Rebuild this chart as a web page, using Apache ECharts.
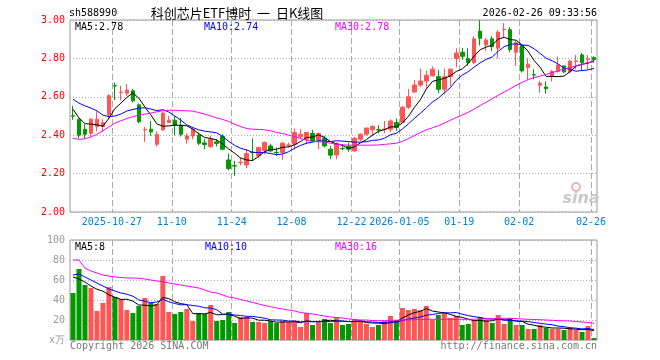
<!DOCTYPE html>
<html><head><meta charset="utf-8">
<script src="https://cdn.jsdelivr.net/npm/echarts@6/dist/echarts.min.js"></script>
<style>html,body{margin:0;padding:0;background:#fff}#c{width:660px;height:360px}</style>
</head><body><div id="c"></div><script>
const dates = ['2025-10-16','2025-10-17','2025-10-20','2025-10-21','2025-10-22','2025-10-23','2025-10-24','2025-10-27','2025-10-28','2025-10-29',
'2025-10-30','2025-10-31','2025-11-03','2025-11-04','2025-11-05','2025-11-06','2025-11-07','2025-11-10','2025-11-11','2025-11-12',
'2025-11-13','2025-11-14','2025-11-17','2025-11-18','2025-11-19','2025-11-20','2025-11-21','2025-11-24','2025-11-25','2025-11-26',
'2025-11-27','2025-11-28','2025-12-01','2025-12-02','2025-12-03','2025-12-04','2025-12-05','2025-12-08','2025-12-09','2025-12-10',
'2025-12-11','2025-12-12','2025-12-15','2025-12-16','2025-12-17','2025-12-18','2025-12-19','2025-12-22','2025-12-23','2025-12-24',
'2025-12-25','2025-12-26','2025-12-29','2025-12-30','2025-12-31','2026-01-05','2026-01-06','2026-01-07','2026-01-08','2026-01-09',
'2026-01-12','2026-01-13','2026-01-14','2026-01-15','2026-01-16','2026-01-19','2026-01-20','2026-01-21','2026-01-22','2026-01-23',
'2026-01-26','2026-01-27','2026-01-28','2026-01-29','2026-01-30','2026-02-02','2026-02-03','2026-02-04','2026-02-05','2026-02-06',
'2026-02-09','2026-02-10','2026-02-11','2026-02-12','2026-02-13','2026-02-24','2026-02-25','2026-02-26'];

const openP = [2.501,2.483,2.431,2.41,2.445,2.445,2.506,2.658,2.622,2.619,
2.631,2.558,2.427,2.431,2.353,2.428,2.466,2.478,2.452,2.379,
2.396,2.40,2.36,2.341,2.365,2.393,2.271,2.241,2.257,2.245,
2.311,2.292,2.318,2.344,2.311,2.31,2.347,2.353,2.393,2.379,
2.409,2.37,2.384,2.327,2.297,2.331,2.341,2.318,2.379,2.405,
2.428,2.429,2.430,2.431,2.466,2.468,2.546,2.625,2.661,2.682,
2.709,2.705,2.639,2.705,2.80,2.832,2.80,2.779,2.942,2.87,
2.902,2.853,2.950,2.949,2.832,2.867,2.753,2.715,2.66,2.651,
2.705,2.732,2.761,2.73,2.785,2.818,2.795,2.804];
const closeP = [2.499,2.40,2.405,2.483,2.483,2.465,2.605,2.656,2.624,2.635,
2.579,2.47,2.429,2.417,2.403,2.515,2.478,2.452,2.405,2.396,
2.431,2.358,2.351,2.379,2.356,2.327,2.226,2.239,2.259,2.304,
2.309,2.336,2.362,2.318,2.309,2.358,2.349,2.414,2.405,2.414,
2.37,2.409,2.344,2.296,2.356,2.329,2.327,2.384,2.405,2.437,
2.445,2.427,2.432,2.474,2.44,2.545,2.60,2.661,2.682,2.712,
2.744,2.639,2.705,2.744,2.828,2.811,2.779,2.902,2.905,2.896,
2.861,2.937,2.952,2.846,2.881,2.735,2.77,2.713,2.67,2.642,
2.732,2.765,2.73,2.786,2.787,2.779,2.797,2.793];
const lowP = [2.48,2.384,2.383,2.393,2.42,2.418,2.483,2.583,2.58,2.605,
2.57,2.463,2.365,2.397,2.341,2.423,2.466,2.40,2.393,2.356,
2.379,2.348,2.327,2.334,2.341,2.322,2.217,2.188,2.243,2.228,
2.266,2.28,2.30,2.31,2.292,2.271,2.336,2.327,2.379,2.353,
2.362,2.327,2.336,2.275,2.275,2.322,2.313,2.313,2.37,2.397,
2.397,2.41,2.41,2.417,2.423,2.463,2.537,2.62,2.651,2.647,
2.705,2.618,2.612,2.656,2.753,2.793,2.761,2.77,2.867,2.837,
2.837,2.80,2.91,2.832,2.761,2.726,2.688,2.691,2.621,2.616,
2.679,2.726,2.723,2.723,2.744,2.735,2.744,2.779];
const highP = [2.553,2.486,2.457,2.489,2.525,2.483,2.614,2.675,2.657,2.666,
2.64,2.565,2.443,2.474,2.42,2.52,2.50,2.50,2.49,2.41,
2.44,2.414,2.379,2.397,2.379,2.405,2.304,2.266,2.283,2.327,
2.383,2.341,2.367,2.356,2.336,2.365,2.362,2.435,2.431,2.417,
2.428,2.414,2.397,2.344,2.362,2.353,2.362,2.391,2.409,2.44,
2.452,2.452,2.474,2.483,2.487,2.553,2.641,2.687,2.747,2.735,
2.758,2.739,2.747,2.747,2.853,2.854,2.853,2.916,2.998,2.907,
2.916,2.946,2.984,2.963,2.893,2.875,2.80,2.744,2.682,2.68,
2.739,2.81,2.761,2.793,2.818,2.828,2.818,2.811];

const ma5 = [2.535,2.49,2.46,2.458,2.454,2.447,2.488,2.539,2.567,2.597,
2.62,2.593,2.547,2.506,2.459,2.447,2.448,2.453,2.451,2.449,
2.432,2.408,2.388,2.383,2.375,2.354,2.328,2.306,2.281,2.271,
2.268,2.29,2.314,2.326,2.327,2.337,2.339,2.35,2.367,2.388,
2.39,2.402,2.388,2.367,2.355,2.347,2.331,2.339,2.36,2.377,
2.4,2.42,2.429,2.443,2.444,2.463,2.498,2.544,2.585,2.64,
2.68,2.688,2.696,2.709,2.732,2.745,2.773,2.813,2.845,2.859,
2.869,2.9,2.91,2.898,2.895,2.87,2.837,2.789,2.754,2.706,
2.706,2.705,2.708,2.731,2.76,2.769,2.775,2.788];
const ma10 = [2.588,2.567,2.553,2.541,2.527,2.504,2.497,2.50,2.51,2.526,
2.534,2.541,2.543,2.536,2.528,2.533,2.521,2.50,2.478,2.454,
2.44,2.428,2.421,2.417,2.412,2.393,2.368,2.347,2.332,2.323,
2.311,2.309,2.31,2.304,2.299,2.302,2.314,2.332,2.347,2.358,
2.364,2.371,2.369,2.367,2.371,2.369,2.367,2.364,2.364,2.366,
2.373,2.375,2.384,2.402,2.41,2.432,2.459,2.487,2.514,2.542,
2.572,2.593,2.62,2.647,2.686,2.713,2.731,2.755,2.777,2.795,
2.807,2.837,2.861,2.872,2.877,2.869,2.868,2.85,2.826,2.801,
2.788,2.771,2.749,2.743,2.733,2.737,2.74,2.748];
const ma30 = [2.383,2.379,2.381,2.391,2.405,2.423,2.443,2.463,2.475,2.487,
2.497,2.504,2.51,2.515,2.522,2.527,2.53,2.53,2.528,2.527,
2.525,2.518,2.51,2.50,2.49,2.482,2.472,2.457,2.445,2.435,
2.431,2.43,2.428,2.423,2.414,2.409,2.40,2.393,2.383,2.374,
2.367,2.366,2.365,2.358,2.353,2.35,2.348,2.348,2.348,2.348,
2.348,2.349,2.352,2.355,2.358,2.368,2.382,2.398,2.414,2.428,
2.438,2.449,2.463,2.478,2.492,2.505,2.519,2.537,2.555,2.572,
2.59,2.607,2.625,2.642,2.66,2.675,2.69,2.70,2.708,2.716,
2.726,2.735,2.745,2.752,2.761,2.77,2.779,2.782];

const volume = [47,71,55,52,29,37,53,43,41,30,
27,34,42,37,36,64,28,26,28,31,
19,27,26,35,19,20,28,17,23,23,
18,18,17,19,17,19,18,19,13,27,
15,19,21,17,23,15,16,21,19,16,
13,15,19,24,20,32,30,31,30,34,
20,25,27,22,24,15,16,20,23,20,
17,25,16,22,15,15,11,11,15,12,
11,11,10,12,10,8,14,2];
const volMa5 = [63,61,58,54,50.8,48.8,45.2,42.8,40.6,40.8,
38.8,35,34.8,34,35.2,42.6,41.4,38.2,36.4,35.4,
26.4,26.2,26.2,27.6,25.2,25.4,25.6,23.8,21.4,22.2,
21.8,19.8,19.8,19,17.8,18,18,18.4,17.2,19.2,
18.4,18.6,19,19.8,19,19,18.4,18.4,18.8,17.4,
17,16.8,16.4,17.4,18.2,22,25,27.4,28.6,31.4,
29,28,27.2,25.6,23.6,22.6,20.8,19.4,19.6,18.8,
19.2,21,20.2,20,19,18.6,15.8,14.8,13.4,12.8,
12,12,11.8,11.2,10.8,10.2,10.8,9.2];
const volMa10 = [65,66,63,60,57,54,51,49,47,45.8,
43.8,40.1,38.8,37.3,38,40.7,38.2,36.5,35.2,35.3,
34.5,33.8,32.2,32,30.3,25.9,25.9,25,24.5,23.7,
23.6,22.7,21.8,20.2,20,19.9,18.9,19.1,18.1,18.5,
18.2,18.3,18.7,18.5,19.1,18.7,18.5,18.7,19.3,18.2,
18,17.6,17.4,18.1,17.8,19.5,20.9,21.9,23,24.8,
25.5,26.5,27.3,27.1,27.5,25.8,24.4,23.3,22.6,21.2,
20.9,20.9,19.8,19.8,18.9,18.9,18.4,17.5,16.7,15.9,
15.3,13.9,13.3,12.3,11.8,11.1,11.4,10.5];
const volMa30 = [80,80,72,69,67,65,64,63,62.5,62,
62,61.7,61,60,59,58.3,57,56,55,54,
53,52,50,48,47,45,43,42,40.5,39,
37.5,36,34.5,33.3,32,31,30,29,27.5,26.7,
26,25,24,23,22.5,22,21,20.5,20,20,
19.5,19.3,19.3,19.5,19.8,20,20,20.3,20.5,20.7,
20.7,20.7,20.7,20.7,20.7,20.7,20.7,20.8,21,21,
21.3,21.5,21.7,21.7,21.3,21,20.7,20.5,20.3,20,
19.7,19.3,19.2,19,18.5,18,17.5,16.7];

const tickDates = ['2025-10-27','2025-11-10','2025-11-24','2025-12-08','2025-12-22','2026-01-05','2026-01-19','2026-02-02','2026-02-26'];
const tickLabels = ['2025-10-27','11-10','11-24','12-08','12-22','2026-01-05','01-19','02-02','02-26'];
const priceLegend = ['MA5:2.78','MA10:2.74','MA30:2.78'];
const volLegend = ['MA5:8','MA10:10','MA30:16'];

const UP = '#ff5555', DOWN = '#009900';
const MONO = '"DejaVu Sans Mono", "Liberation Mono", monospace';
const candleData = dates.map((d, i) => [openP[i], closeP[i], lowP[i], highP[i]]);
const volData = volume.map((v, i) => ({value: v, itemStyle: {color: closeP[i] >= openP[i] ? UP : DOWN}}));
const boundary = dates.concat(['end']);
const isTick = (idx, val) => tickDates.indexOf(val) >= 0;

const chart = echarts.init(document.getElementById('c'), null, {renderer: 'canvas'});
const splitX = {show: true, interval: isTick, lineStyle: {color: '#aaa', type: [6, 3], width: 1}};
const txt = (x, y, text, fill, align, font) => ({type: 'text', x: x, y: y, z: 100,
  style: {text: text, fill: fill, font: font || ('10px ' + MONO), textAlign: align || 'left', textVerticalAlign: 'middle', verticalAlign: 'middle'}});

chart.setOption({
  animation: false,
  backgroundColor: '#fff',
  grid: [
    {left: 70, right: 63, top: 20, height: 192, show: true, borderColor: '#999', borderWidth: 1},
    {left: 70, right: 63, top: 240, height: 100, show: true, borderColor: '#999', borderWidth: 1}
  ],
  xAxis: [
    {type: 'category', gridIndex: 0, data: dates, boundaryGap: true, axisLine: {show: false}, axisTick: {show: false}, axisLabel: {show: false}, splitLine: {show: false}},
    {type: 'category', gridIndex: 0, data: boundary, boundaryGap: false, position: 'bottom', axisLine: {show: false}, axisTick: {show: false},
      axisLabel: {show: true, interval: isTick, hideOverlap: false, margin: 5, color: '#0080d8', fontFamily: MONO, fontSize: 10,
        formatter: v => tickLabels[tickDates.indexOf(v)] || ''},
      splitLine: splitX},
    {type: 'category', gridIndex: 1, data: dates, boundaryGap: true, axisLine: {show: false}, axisTick: {show: false}, axisLabel: {show: false}, splitLine: {show: false}},
    {type: 'category', gridIndex: 1, data: boundary, boundaryGap: false, axisLine: {show: false}, axisTick: {show: false}, axisLabel: {show: false}, splitLine: splitX}
  ],
  yAxis: [
    {type: 'value', gridIndex: 0, min: 2, max: 3, interval: 0.2, axisLine: {show: false}, axisTick: {show: false},
      axisLabel: {color: '#ff0000', fontFamily: MONO, fontSize: 10, margin: 5, formatter: v => v.toFixed(2)},
      splitLine: {show: true, lineStyle: {color: '#aaa', type: [1, 2], width: 1}}},
    {type: 'value', gridIndex: 1, min: 0, max: 100, interval: 20, axisLine: {show: false}, axisTick: {show: false},
      axisLabel: {color: '#999', fontFamily: MONO, fontSize: 10, margin: 5, formatter: v => v === 0 ? 'x万' : String(v)},
      splitLine: {show: true, lineStyle: {color: '#aaa', type: [1, 2], width: 1}}}
  ],
  series: [
    {type: 'candlestick', xAxisIndex: 0, yAxisIndex: 0, data: candleData, barWidth: 4,
      itemStyle: {color: UP, color0: DOWN, borderColor: UP, borderColor0: DOWN, borderWidth: 1}},
    {type: 'line', xAxisIndex: 0, yAxisIndex: 0, data: ma5, symbol: 'none', lineStyle: {color: '#000', width: 1}, z: 5},
    {type: 'line', xAxisIndex: 0, yAxisIndex: 0, data: ma10, symbol: 'none', lineStyle: {color: '#0000ff', width: 1}, z: 5},
    {type: 'line', xAxisIndex: 0, yAxisIndex: 0, data: ma30, symbol: 'none', lineStyle: {color: '#ff00ff', width: 1}, z: 5},
    {type: 'bar', xAxisIndex: 2, yAxisIndex: 1, data: volData, barWidth: 5},
    {type: 'line', xAxisIndex: 2, yAxisIndex: 1, data: volMa5, symbol: 'none', lineStyle: {color: '#000', width: 1}, z: 5},
    {type: 'line', xAxisIndex: 2, yAxisIndex: 1, data: volMa10, symbol: 'none', lineStyle: {color: '#0000ff', width: 1}, z: 5},
    {type: 'line', xAxisIndex: 2, yAxisIndex: 1, data: volMa30, symbol: 'none', lineStyle: {color: '#ff00ff', width: 1}, z: 5}
  ],
  graphic: [
    txt(69, 13, 'sh588990', '#000'),
    txt(237, 13, '科创芯片ETF博时  一  日K线图', '#000', 'center', '13px "Noto Sans CJK SC", sans-serif'),
    txt(597, 13, '2026-02-26 09:33:56', '#000', 'right'),
    txt(75, 27, priceLegend[0], '#000'),
    txt(204, 27, priceLegend[1], '#0000ff'),
    txt(335, 27, priceLegend[2], '#ff00ff'),
    txt(75, 247, volLegend[0], '#000'),
    txt(205, 247, volLegend[1], '#0000ff'),
    txt(335, 247, volLegend[2], '#ff00ff'),
    txt(70, 346, 'Copyright 2026 SINA.COM', '#777'),
    txt(597, 346, 'http://finance.sina.com.cn', '#777', 'right'),
    {type: 'circle', shape: {cx: 576, cy: 187, r: 4}, z: 1, style: {fill: 'none', stroke: '#f0b0b0', lineWidth: 2}},
    txt(581, 199, 'sina', '#c8c8c8', 'center', 'italic bold 16px "DejaVu Sans", sans-serif')
  ]
});
</script></body></html>
